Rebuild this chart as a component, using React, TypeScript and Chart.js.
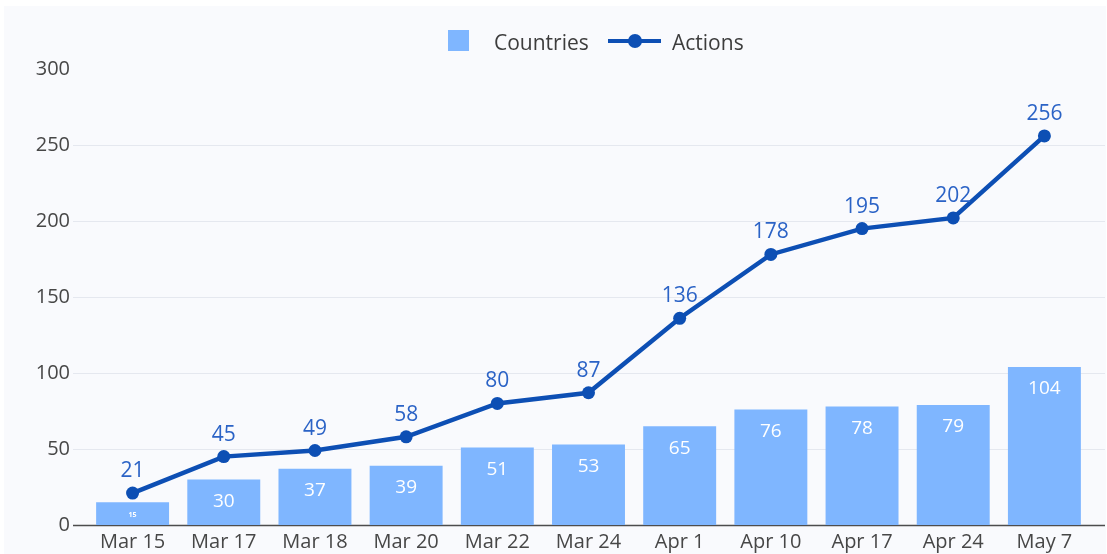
import React, { useEffect, useRef } from "react";
import { Chart, registerables } from "chart.js";

Chart.register(...registerables);

const categories = ["Mar 15", "Mar 17", "Mar 18", "Mar 20", "Mar 22", "Mar 24", "Apr 1", "Apr 10", "Apr 17", "Apr 24", "May 7"];
const countries = [15, 30, 37, 39, 51, 53, 65, 76, 78, 79, 104];
const actions = [21, 45, 49, 58, 80, 87, 136, 178, 195, 202, 256];
const yMin = 0;
const yMax = 300;
const yStep = 50;

const FONT = "'Open Sans', sans-serif";
const BAR_COLOR = "#7fb6ff";
const LINE_COLOR = "#0d4fb4";
const LINE_LABEL_COLOR = "#2b63c6";
const AXIS_TEXT = "#474747";

const gridPlugin = {
  id: "customGrid",
  beforeDatasetsDraw(chart: any) {
    const { ctx, chartArea } = chart;
    const y = chart.scales.y;
    ctx.save();
    y.ticks.forEach((t: any) => {
      if (t.value === yMax) return;
      const py = Math.round(y.getPixelForValue(t.value)) + 0.5;
      ctx.strokeStyle = t.value === 0 ? "#4d4d4d" : "#e5e8ef";
      ctx.lineWidth = t.value === 0 ? 1.5 : 1;
      ctx.beginPath();
      ctx.moveTo(chartArea.left - 14, py);
      ctx.lineTo(chartArea.right + 15, py);
      ctx.stroke();
    });
    ctx.restore();
  },
};

const labelPlugin = {
  id: "valueLabels",
  afterDatasetsDraw(chart: any) {
    const ctx = chart.ctx;
    ctx.save();
    ctx.textAlign = "center";
    ctx.textBaseline = "middle";
    const barMeta = chart.getDatasetMeta(1);
    barMeta.data.forEach((bar: any, i: number) => {
      const h = bar.base - bar.y;
      ctx.fillStyle = "#ffffff";
      if (h < 30) {
        ctx.font = `bold 7px ${FONT}`;
        ctx.fillText(String(countries[i]), bar.x, bar.y + h / 2 + 1);
      } else {
        ctx.font = `19px ${FONT}`;
        ctx.fillText(String(countries[i]), bar.x, bar.y + 22);
      }
    });
    const lineMeta = chart.getDatasetMeta(0);
    ctx.fillStyle = LINE_LABEL_COLOR;
    ctx.font = `21px ${FONT}`;
    lineMeta.data.forEach((pt: any, i: number) => {
      ctx.fillText(String(actions[i]), pt.x, pt.y - 22);
    });
    ctx.restore();
  },
};

function Legend() {
  const text: React.CSSProperties = {
    position: "absolute",
    top: 42,
    transform: "translateY(-50%)",
    font: `21px ${FONT}`,
    color: "#3d3d3d",
    lineHeight: "24px",
    whiteSpace: "nowrap",
  };
  return (
    <>
      <div style={{ position: "absolute", left: 448, top: 30, width: 21, height: 21, background: BAR_COLOR }} />
      <span style={{ ...text, left: 494 }}>Countries</span>
      <div style={{ position: "absolute", left: 608, top: 39, width: 53, height: 4, background: LINE_COLOR }} />
      <div style={{ position: "absolute", left: 628, top: 34, width: 14, height: 14, borderRadius: 7, background: LINE_COLOR }} />
      <span style={{ ...text, left: 672 }}>Actions</span>
    </>
  );
}

export default function App() {
  const canvasRef = useRef<HTMLCanvasElement | null>(null);

  useEffect(() => {
    document.body.style.margin = "0";
    const canvas = canvasRef.current;
    if (!canvas) return;
    const chart = new Chart(canvas, {
      type: "bar",
      data: {
        labels: categories,
        datasets: [
          {
            type: "line",
            label: "Actions",
            data: actions,
            borderColor: LINE_COLOR,
            backgroundColor: LINE_COLOR,
            borderWidth: 4.5,
            pointRadius: 6.5,
            pointBackgroundColor: LINE_COLOR,
            pointBorderWidth: 0,
            tension: 0,
            order: 0,
          } as any,
          {
            type: "bar",
            label: "Countries",
            data: countries,
            backgroundColor: BAR_COLOR,
            borderWidth: 0,
            categoryPercentage: 1,
            barPercentage: 0.8,
            order: 1,
          } as any,
        ],
      },
      options: {
        responsive: false,
        animation: false,
        devicePixelRatio: 1,
        layout: { padding: { top: 69, right: 17, bottom: 0, left: 0 } },
        plugins: { legend: { display: false }, tooltip: { enabled: false } },
        scales: {
          x: {
            offset: true,
            grid: { display: false, drawTicks: false },
            border: { display: false },
            ticks: { color: AXIS_TEXT, font: { family: FONT, size: 20 }, padding: 5, maxRotation: 0, autoSkip: false },
            afterFit: (s: any) => {
              s.height = 28;
            },
          },
          y: {
            min: yMin,
            max: yMax,
            grid: { display: false, drawTicks: false },
            border: { display: false },
            ticks: { stepSize: yStep, color: AXIS_TEXT, font: { family: FONT, size: 20 }, padding: 17 },
            afterFit: (s: any) => {
              s.width = 87;
            },
          },
        },
      },
      plugins: [gridPlugin, labelPlugin],
    });
    return () => chart.destroy();
  }, []);

  return (
    <div style={{ position: "relative", width: 1107, height: 554, background: "#ffffff", overflow: "hidden" }}>
      <div style={{ position: "absolute", left: 4, top: 6, right: 1, bottom: 0, background: "#f9fafd" }} />
      <canvas ref={canvasRef} width={1107} height={554} style={{ position: "absolute", left: 0, top: 0 }} />
      <Legend />
    </div>
  );
}
